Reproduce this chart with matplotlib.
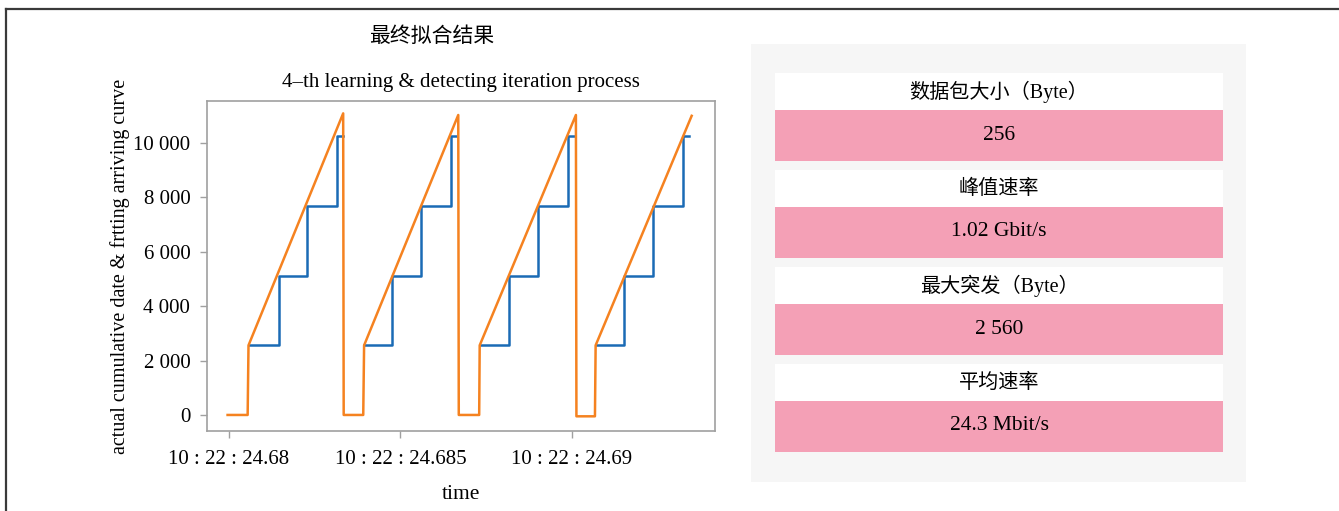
import numpy as np
import matplotlib
matplotlib.use('Agg')
import matplotlib.pyplot as plt
from matplotlib.patches import Rectangle
from matplotlib.lines import Line2D

plt.rcParams['font.family'] = ['Liberation Serif', 'Noto Sans CJK SC']

# time offsets in ms after 10:22:24.680
orange_t = [-0.04, 0.545, 0.57, 3.33, 3.345, 3.915, 3.94, 6.685, 6.70, 7.295, 7.31,
            10.115, 10.13, 10.67, 10.69, 13.49]
orange_v = [0, 0, 2560, 11090, 0, 0, 2560, 11030, 0, 0, 2560,
            11030, -50, -50, 2560, 11000]

cycle_t = [
    [0.57, 1.458, 2.283, 3.157, 3.332],
    [3.94, 4.761, 5.589, 6.464, 6.656],
    [7.31, 8.172, 9.018, 9.892, 10.079],
    [10.69, 11.516, 12.353, 13.228, 13.420],
]
step_v = [2560, 5120, 7680, 10240, 10240]

xtick_ms = [0, 5, 10]
xtick_labels = ['10 : 22 : 24.68', '10 : 22 : 24.685', '10 : 22 : 24.69']
ytick_v = [0, 2000, 4000, 6000, 8000, 10000]
ytick_labels = ['0', '2 000', '4 000', '6 000', '8 000', '10 000']

box_titles = ['数据包大小（Byte）', '峰值速率', '最大突发（Byte）', '平均速率']
box_values = ['256', '1.02 Gbit/s', '2 560', '24.3 Mbit/s']

W, H = 1339, 511
fig = plt.figure(figsize=(W / 100, H / 100), dpi=100)

# outer frame (top and left only)
fig.add_artist(Line2D([6 / W, 1], [1 - 9.5 / H, 1 - 9.5 / H], color='#3a3a3a', lw=1.6))
fig.add_artist(Line2D([6.5 / W, 6.5 / W], [0, 1 - 9.5 / H], color='#3a3a3a', lw=1.6))

ax = fig.add_axes([207 / W, 1 - 431 / H, (715 - 207) / W, (431 - 101) / H])

blue_t = []
blue_v = []
for ts in cycle_t:
    blue_t += ts + [np.nan]
    blue_v += step_v + [np.nan]

ax.plot(blue_t, blue_v, color='#1a6bb5', lw=1.8, drawstyle='steps-post')
ax.plot(orange_t, orange_v, color='#f58220', lw=1.8)

ax.set_xlim(-0.64, 14.17)
ax.set_ylim(-590, 11545)
ax.set_xticks(xtick_ms)
ax.set_xticklabels(xtick_labels)
ax.set_yticks(ytick_v)
ax.set_yticklabels(ytick_labels)
for s in ax.spines.values():
    s.set_color('#a0a0a0')
    s.set_linewidth(1.2)
ax.tick_params(direction='out', length=5, width=1, color='#a0a0a0', labelsize=15, pad=7)
ax.tick_params(axis='x', pad=9)
ax.set_xlabel('time', fontsize=15.5, labelpad=11)
ax.set_ylabel('actual cumulative date & frtting arriving curve', fontsize=14.5, labelpad=2)
ax.set_title('4–th learning & detecting iteration process', fontsize=15, pad=10)

fig.text(432 / W, 1 - 37 / H, '最终拟合结果', fontsize=15, ha='center', va='center')

# right panel
fig.add_artist(Rectangle((751 / W, 1 - 482 / H), (1246 - 751) / W, (482 - 44) / H,
                         facecolor='#f6f6f6', edgecolor='none'))
row_top = [73.3, 170, 267.3, 364]
for i in range(4):
    top = row_top[i]
    fig.add_artist(Rectangle((775 / W, 1 - (top + 36.7) / H), (1223 - 775) / W, 36.7 / H,
                             facecolor='white', edgecolor='none'))
    fig.add_artist(Rectangle((775 / W, 1 - (top + 87.5) / H), (1223 - 775) / W, 50.8 / H,
                             facecolor='#f4a0b6', edgecolor='none'))
    fig.text(999 / W, 1 - (top + 19) / H, box_titles[i], fontsize=14.5, ha='center', va='center')
    fig.text(999 / W, 1 - (top + 62) / H, box_values[i], fontsize=15.5, ha='center', va='center')

fig.savefig('out.png', dpi=100)
